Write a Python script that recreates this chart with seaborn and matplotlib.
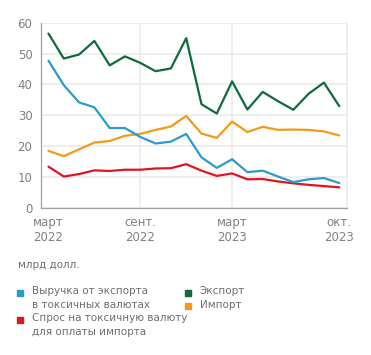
import numpy as np
import pandas as pd
import seaborn as sns
import matplotlib.pyplot as plt
from matplotlib.lines import Line2D

# monthly data, March 2022 - October 2023, bn USD
months = pd.period_range("2022-03", "2023-10", freq="M").astype(str)
export = [56.5, 48.4, 49.7, 54.1, 46.2, 49.1, 47.0, 44.3, 45.2, 55.0,
          33.6, 30.6, 41.0, 31.9, 37.6, 34.6, 31.8, 37.0, 40.6, 33.0]
export_toxic = [47.7, 39.8, 34.2, 32.6, 25.9, 25.9, 23.0, 20.9, 21.5, 24.0,
                16.4, 13.0, 15.8, 11.6, 12.1, 10.2, 8.4, 9.3, 9.7, 8.1]
imports = [18.5, 16.8, 19.0, 21.2, 21.7, 23.4, 24.0, 25.3, 26.4, 29.8,
           24.1, 22.7, 28.0, 24.6, 26.3, 25.3, 25.4, 25.3, 24.8, 23.5]
demand_toxic = [13.4, 10.2, 11.0, 12.2, 12.0, 12.4, 12.4, 12.8, 12.9, 14.2,
                12.1, 10.4, 11.2, 9.3, 9.4, 8.6, 8.0, 7.5, 7.1, 6.7]

names = ["Выручка от экспорта\nв токсичных валютах",
         "Спрос на токсичную валюту\nдля оплаты импорта",
         "Экспорт", "Импорт"]
colors = ["#2b9bcb", "#e3141f", "#0d6b3c", "#f39a1b"]

tick_pos = [0, 6, 12, 19]
tick_labels = ["март\n2022", "сент.\n2022", "март\n2023", "окт.\n2023"]

df = pd.DataFrame({"x": np.arange(len(months)),
                   names[0]: export_toxic, names[1]: demand_toxic,
                   names[2]: export, names[3]: imports})
long = df.melt(id_vars="x", var_name="series", value_name="value")

sns.set_style("white")
plt.rcParams["font.family"] = ["DejaVu Sans"]

W, H = 371, 355
fig = plt.figure(figsize=(W / 100, H / 100), dpi=100)
ax = fig.add_axes([0.11, 0.414, 0.825, 0.522])

# draw order: green, orange, red, blue on top
order = [names[2], names[3], names[1], names[0]]
sns.lineplot(data=long, x="x", y="value", hue="series", hue_order=order,
             palette=dict(zip(names, colors)), linewidth=1.6, ax=ax, legend=False)

ax.set_xlim(-0.5, 19.5)
ax.set_ylim(0, 60)
ax.set_yticks(range(0, 61, 10))
ax.set_xticks(tick_pos)
ax.set_xticklabels(tick_labels)
ax.set_xlabel("")
ax.set_ylabel("")

ax.grid(axis="y", color="#ebebeb", linewidth=1.2)
for v in [6, 12]:
    ax.axvline(v, color="#ebebeb", linewidth=1.2, zorder=0)
ax.set_axisbelow(True)

ax.spines["top"].set_visible(False)
ax.spines["right"].set_color("#ebebeb")
ax.spines["right"].set_linewidth(1.2)
for s in ["left", "bottom"]:
    ax.spines[s].set_color("#a0a0a0")
    ax.spines[s].set_linewidth(0.9)

ax.tick_params(axis="both", length=0, labelsize=8.5, labelcolor="#808080", pad=6)
ax.set_xticks([-0.5, 6, 12, 19.5], minor=True)
ax.tick_params(axis="x", which="minor", length=3, color="#a0a0a0", width=0.9)

txt_color = "#6e6e6e"
fig.text(18 / W, 1 - 265 / H, "млрд долл.", fontsize=7.5, color=txt_color, va="center")

# legend: square marker aligned with the first line of each label
legend_items = [(names[0], colors[0], 20, 292.5),
                (names[1], colors[1], 20, 319.5),
                (names[2], colors[2], 188, 292.5),
                (names[3], colors[3], 188, 306)]
for label, c, px, py in legend_items:
    fig.add_artist(Line2D([px / W], [1 - py / H], marker="s", markersize=5,
                          color=c, linestyle="none", transform=fig.transFigure))
    fig.text((px + 12) / W, 1 - (py - 6.5) / H, label, fontsize=7.5,
             color=txt_color, va="top", linespacing=1.45)

fig.savefig("out.png", dpi=100)
